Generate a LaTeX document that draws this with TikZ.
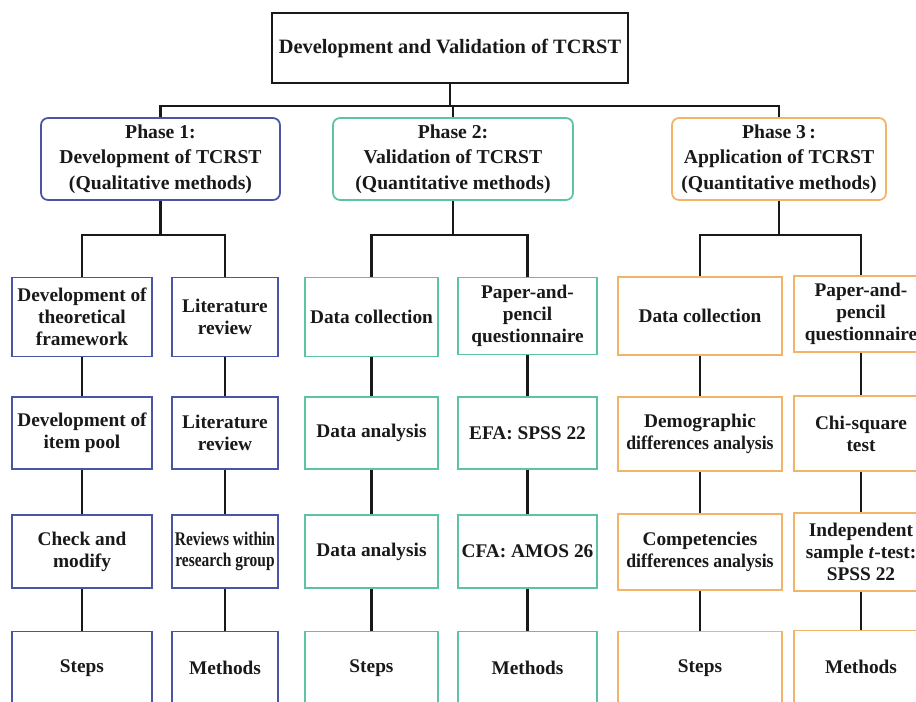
\documentclass[tikz,border=0pt]{standalone}
\usepackage{fontspec}
\setmainfont{Liberation Serif}
\usepackage{graphicx}
\definecolor{phaseblue}{HTML}{4B55A8}
\definecolor{phaseteal}{HTML}{5CC4A4}
\definecolor{phaseorange}{HTML}{F3B468}
\begin{document}
\begin{tikzpicture}[x=0.02cm,y=-0.02cm,
    box/.style={draw,line width=1pt,fill=white,align=center,inner sep=1pt,text=black!90,
        font=\bfseries\fontsize{11}{12.4}\selectfont},
    phase/.style={box,rounded corners=4pt,minimum height=1.64cm,
        font=\bfseries\fontsize{11.2}{14.6}\selectfont},
    link/.style={line width=1.6pt,black!90}]
\useasboundingbox (0,0) rectangle (916,701);
\clip (0,0) rectangle (916,701);
% top
\node[box,draw=black!90,line width=1.2pt,minimum width=7.12cm,minimum height=1.4cm,
    font=\bfseries\fontsize{11.6}{13}\selectfont] (title) at (450,48) {Development and Validation of TCRST};
\coordinate (topbar) at (0,106);
\coordinate (subbar) at (0,235);
% phases
\node[phase,draw=phaseblue,minimum width=4.78cm] (p1) at (160.5,159) {Phase 1:\\Development of TCRST\\(Qualitative methods)};
\node[phase,draw=phaseteal,minimum width=4.8cm] (p2) at (453,159) {Phase 2:\\Validation of TCRST\\(Quantitative methods)};
\node[phase,draw=phaseorange,minimum width=4.28cm] (p3) at (779,159) {Phase 3\,:\\Application of TCRST\\(Quantitative methods)};
% phase 1: steps / methods
\node[box,draw=phaseblue,minimum width=2.8cm,minimum height=1.58cm] (p1s1) at (82,317) {Development of\\theoretical\\framework};
\node[box,draw=phaseblue,minimum width=2.8cm,minimum height=1.44cm] (p1s2) at (82,433) {Development of\\item pool};
\node[box,draw=phaseblue,minimum width=2.8cm,minimum height=1.46cm] (p1s3) at (82,551.5) {Check and\\modify};
\node[box,draw=phaseblue,minimum width=2.8cm,minimum height=1.46cm] (p1s4) at (82,668) {Steps};
\node[box,draw=phaseblue,minimum width=2.12cm,minimum height=1.58cm] (p1m1) at (225,317) {Literature\\review};
\node[box,draw=phaseblue,minimum width=2.12cm,minimum height=1.44cm] (p1m2) at (225,433) {Literature\\review};
\node[box,draw=phaseblue,minimum width=2.12cm,minimum height=1.46cm] (p1m3) at (225,551.5) {\scalebox{0.8}[1]{Reviews within}\\\scalebox{0.8}[1]{research group}};
\node[box,draw=phaseblue,minimum width=2.12cm,minimum height=1.46cm] (p1m4) at (225,668) {Methods};
% phase 2: steps / methods
\node[box,draw=phaseteal,minimum width=2.66cm,minimum height=1.58cm] (p2s1) at (371.5,317) {Data collection};
\node[box,draw=phaseteal,minimum width=2.66cm,minimum height=1.44cm] (p2s2) at (371.5,433) {Data analysis};
\node[box,draw=phaseteal,minimum width=2.66cm,minimum height=1.46cm] (p2s3) at (371.5,551.5) {Data analysis};
\node[box,draw=phaseteal,minimum width=2.66cm,minimum height=1.46cm] (p2s4) at (371.5,668) {Steps};
\node[box,draw=phaseteal,minimum width=2.78cm,minimum height=1.54cm] (p2m1) at (527.5,316) {Paper-and-\\pencil\\questionnaire};
\node[box,draw=phaseteal,minimum width=2.78cm,minimum height=1.44cm] (p2m2) at (527.5,433) {EFA: SPSS 22};
\node[box,draw=phaseteal,minimum width=2.78cm,minimum height=1.46cm] (p2m3) at (527.5,551.5) {CFA: AMOS 26};
\node[box,draw=phaseteal,minimum width=2.78cm,minimum height=1.46cm] (p2m4) at (527.5,668) {Methods};
% phase 3: steps / methods
\node[box,draw=phaseorange,minimum width=3.28cm,minimum height=1.56cm] (p3s1) at (700,316) {Data collection};
\node[box,draw=phaseorange,minimum width=3.28cm,minimum height=1.48cm] (p3s2) at (700,434) {Demographic\\\scalebox{0.92}[1]{differences analysis}};
\node[box,draw=phaseorange,minimum width=3.28cm,minimum height=1.52cm] (p3s3) at (700,552) {Competencies\\\scalebox{0.92}[1]{differences analysis}};
\node[box,draw=phaseorange,minimum width=3.28cm,minimum height=1.46cm] (p3s4) at (700,668) {Steps};
\node[box,draw=phaseorange,minimum width=2.68cm,minimum height=1.52cm] (p3m1) at (861,314) {Paper-and-\\pencil\\questionnaire};
\node[box,draw=phaseorange,minimum width=2.68cm,minimum height=1.5cm] (p3m2) at (861,433.5) {Chi-square\\test};
\node[box,draw=phaseorange,minimum width=2.68cm,minimum height=1.56cm] (p3m3) at (861,552) {Independent\\sample \textit{t}-test:\\SPSS 22};
\node[box,draw=phaseorange,minimum width=2.68cm,minimum height=1.46cm] (p3m4) at (861,667) {Methods};
% connectors
\draw[link] (title.south) -- (title.south |- topbar);
\draw[link] (p1.north) |- (p3.north |- topbar) -- (p3.north);
\draw[link] (p2.north) -- (p2.north |- topbar);
\draw[link] (p1.south) -- (p1.south |- subbar);
\draw[link] (p2.south) -- (p2.south |- subbar);
\draw[link] (p3.south) -- (p3.south |- subbar);
\draw[link] (p1s1.north) |- (p1m1.north |- subbar) -- (p1m1.north);
\draw[link] (p2s1.north) |- (p2m1.north |- subbar) -- (p2m1.north);
\draw[link] (p3s1.north) |- (p3m1.north |- subbar) -- (p3m1.north);
\draw[link] (p1s1) -- (p1s2) (p1s2) -- (p1s3) (p1s3) -- (p1s4);
\draw[link] (p1m1) -- (p1m2) (p1m2) -- (p1m3) (p1m3) -- (p1m4);
\draw[link] (p2s1) -- (p2s2) (p2s2) -- (p2s3) (p2s3) -- (p2s4);
\draw[link] (p2m1) -- (p2m2) (p2m2) -- (p2m3) (p2m3) -- (p2m4);
\draw[link] (p3s1) -- (p3s2) (p3s2) -- (p3s3) (p3s3) -- (p3s4);
\draw[link] (p3m1) -- (p3m2) (p3m2) -- (p3m3) (p3m3) -- (p3m4);
\end{tikzpicture}
\end{document}
